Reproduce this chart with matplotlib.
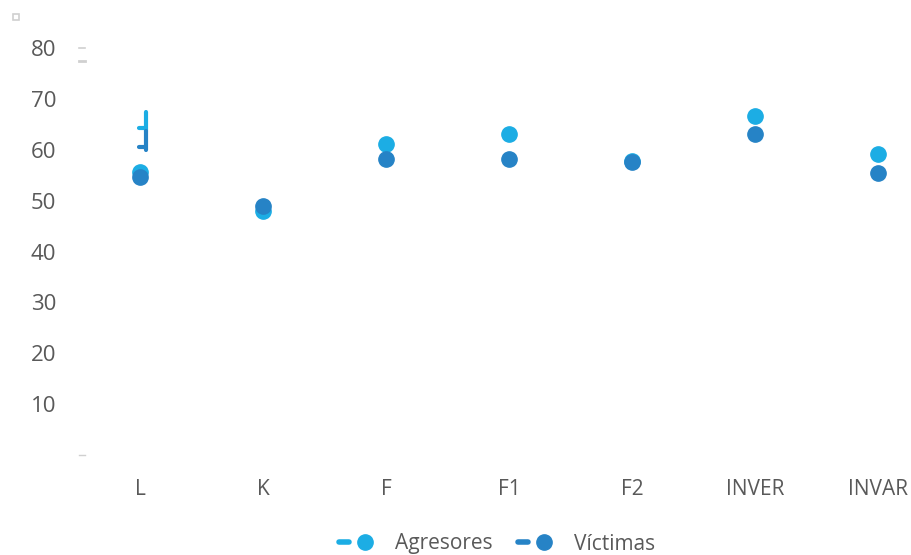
import matplotlib
matplotlib.use("Agg")
import matplotlib.pyplot as plt
from matplotlib.patches import Rectangle
from matplotlib.lines import Line2D
from matplotlib.legend_handler import HandlerTuple
import matplotlib.transforms as mtransforms

plt.rcParams['font.family'] = ['Open Sans', 'DejaVu Sans']

categories = ["L", "K", "F", "F1", "F2", "INVER", "INVAR"]
agresores = [55.6, 48.0, 61.1, 63.1, 57.7, 66.7, 59.2]
victimas = [54.7, 49.0, 58.1, 58.1, 57.5, 63.1, 55.4]
series_names = ["Agresores", "Víctimas"]
y_ticks = [10, 20, 30, 40, 50, 60, 70, 80]

# stray glyph marks drawn next to category L (top, bottom, stub level)
glyph_agresores = [67.5, 63.6, 64.2]
glyph_victimas = [63.7, 60.0, 60.6]

c_light = "#1CADE4"
c_dark = "#2683C6"
text_c = "#595959"

W, H = 912, 555
fig = plt.figure(figsize=(W / 100, H / 100), dpi=100)
left_px, right_px = 78.5, 912
top_px, bot_px = 48, 455
ax = fig.add_axes([left_px / W, (H - bot_px) / H, (right_px - left_px) / W, (bot_px - top_px) / H])
ax.set_ylim(0, 80)
ax.set_xlim(-0.5, -0.5 + (right_px - left_px) / 123.0)

x = list(range(len(categories)))
ax.plot(x, agresores, linestyle='none', marker='o', markersize=11, color=c_light, zorder=3)
ax.plot(x, victimas, linestyle='none', marker='o', markersize=11, color=c_dark, zorder=4)

# glyphs near L
gx = 0.05
for vals, col in ((glyph_agresores, c_light), (glyph_victimas, c_dark)):
    ax.plot([gx, gx], [vals[0], vals[1]], color=col, lw=3, solid_capstyle='round', zorder=5)
    ax.plot([gx - 0.06, gx], [vals[2], vals[2]], color=col, lw=3, solid_capstyle='round', zorder=5)

for s in ax.spines.values():
    s.set_visible(False)
ax.set_yticks(y_ticks)
ax.set_yticklabels([str(v) for v in y_ticks], fontsize=16, color=text_c)
ax.set_xticks(x)
ax.set_xticklabels(categories, fontsize=15, color=text_c)
ax.tick_params(axis='y', length=0, pad=16)
ax.tick_params(axis='x', length=0, pad=17)

# small gray tick remnants at the left of the plot area
trans = mtransforms.blended_transform_factory(ax.transAxes, ax.transData)
for yv, lw in ((80, 1.2), (77.4, 2.0), (0, 1.0)):
    ax.add_line(Line2D([0.0, 0.008], [yv, yv], transform=trans, color="#D0D0D0", lw=lw, clip_on=False))

# tiny square in the corner
fig.patches.append(Rectangle((13 / W, (H - 20) / H), 6 / W, 6 / H, transform=fig.transFigure,
                             facecolor='none', edgecolor='#D0D0D0', lw=1.2))

# legend: short dash followed by a dot
handles = []
for c in (c_light, c_dark):
    dash = Line2D([0], [0], color=c, lw=4, solid_capstyle='round')
    dot = Line2D([0], [0], linestyle='none', marker='o', markersize=11, color=c)
    handles.append((dash, dot))
leg = fig.legend(handles, series_names, loc='center', bbox_to_anchor=(497 / W, (H - 544) / H),
                 ncol=2, frameon=False, fontsize=15, handlelength=1.5, columnspacing=1.2,
                 handletextpad=1.2, labelcolor=text_c,
                 handler_map={tuple: HandlerTuple(ndivide=None, pad=0.5)})

fig.savefig("out.png", dpi=100)
